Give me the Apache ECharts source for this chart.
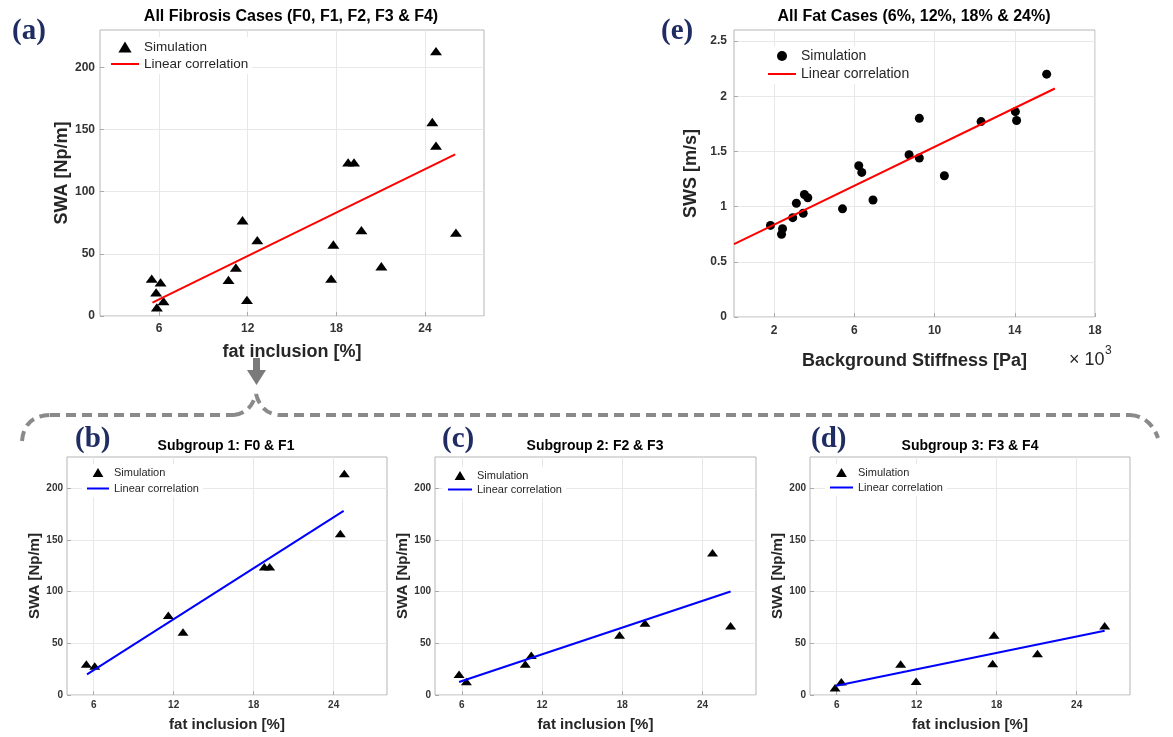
<!DOCTYPE html>
<html>
<head>
<meta charset="utf-8">
<script src="https://cdn.jsdelivr.net/npm/echarts@6/dist/echarts.min.js"></script>
<style>
html, body { margin: 0; padding: 0; background: #fff; }
#chart { width: 1173px; height: 737px; }
</style>
</head>
<body>
<div id="chart"></div>
<script>
var FONT = 'Liberation Sans, Arial, sans-serif';

// (a) all fibrosis cases: fat inclusion [%] vs SWA [Np/m]
var fatAll = [5.5, 6.1, 5.8, 5.85, 6.3, 10.7, 11.2, 11.65, 11.95, 12.65, 17.65, 17.8, 18.8, 19.2, 19.7, 21.05, 24.5, 24.75, 24.75, 26.1];
var swaAll = [30, 27, 19, 7, 12, 29, 39, 77, 13, 61, 30, 57.5, 123.5, 123.5, 69, 40, 156, 137, 213, 67];
var fitAllX = [5.55, 26.05];
var fitAllY = [10.7, 130];

// (b) subgroup 1: F0 & F1
var fatSub1 = [5.45, 6.08, 11.6, 12.7, 18.8, 19.2, 24.5, 24.8];
var swaSub1 = [30, 28, 77, 61, 124, 124, 156, 214];
var fitSub1X = [5.5, 24.75];
var fitSub1Y = [20, 178];

// (c) subgroup 2: F2 & F3
var fatSub2 = [5.8, 6.35, 10.75, 11.2, 17.8, 19.7, 24.75, 26.1];
var swaSub2 = [20, 13, 30, 38.5, 58, 69.5, 137.5, 67];
var fitSub2X = [5.8, 26.1];
var fitSub2Y = [12.5, 100];

// (d) subgroup 3: F3 & F4
var fatSub3 = [5.88, 6.35, 10.8, 11.96, 17.7, 17.8, 21.06, 26.1];
var swaSub3 = [7, 12.8, 30, 13.2, 30.5, 58, 40, 67];
var fitSub3X = [5.88, 26.1];
var fitSub3Y = [8.7, 62];

// (e) all fat cases: background stiffness [x10^3 Pa] vs SWS [m/s]
var stiffness = [1.82, 2.37, 2.42, 2.93, 3.11, 3.45, 3.51, 3.68, 5.41, 6.22, 6.37, 6.93, 8.73, 9.24, 9.24, 10.49, 12.32, 14.03, 14.09, 15.59];
var sws = [0.83, 0.75, 0.80, 0.90, 1.03, 0.94, 1.11, 1.08, 0.98, 1.37, 1.31, 1.06, 1.47, 1.44, 1.80, 1.28, 1.77, 1.86, 1.78, 2.20];
var fitFatX = [0, 16];
var fitFatY = [0.66, 2.07];

// tick labels
var fatTicks = [6, 12, 18, 24];
var swaTicks = [0, 50, 100, 150, 200];
var stiffTicks = [2, 6, 10, 14, 18];
var swsTicks = [0, 0.5, 1, 1.5, 2, 2.5];

function zip(xs, ys) {
    var out = [];
    for (var i = 0; i < xs.length; i++) out.push([xs[i], ys[i]]);
    return out;
}

var grids = [
    { left: 100, top: 30, width: 384, height: 286 },  // a
    { left: 734, top: 30, width: 361, height: 287 },  // e
    { left: 67, top: 457, width: 320, height: 238 },  // b
    { left: 435, top: 457, width: 321, height: 238 }, // c
    { left: 810, top: 457, width: 320, height: 238 }  // d
];
grids.forEach(function (g) {
    g.show = true;
    g.borderColor = '#b5b5b5';
    g.borderWidth = 1;
    g.backgroundColor = '#fff';
});

function axis(i, min, max, ticks, name, o) {
    return {
        gridIndex: i, type: 'value', min: min, max: max,
        name: name, nameLocation: 'middle', nameGap: o.gap,
        nameTextStyle: { fontSize: o.nameFs, fontWeight: 'bold', color: '#262626', fontFamily: FONT },
        axisLine: { show: false },
        axisTick: { show: true, inside: true, length: 4, customValues: ticks, lineStyle: { color: '#aaa' } },
        axisLabel: { customValues: ticks, margin: o.margin, fontSize: o.labelFs, fontWeight: 'bold', color: '#333', fontFamily: FONT },
        splitLine: { show: true, lineStyle: { color: '#e8e8e8', width: 1 } }
    };
}

var xAxes = [
    axis(0, 2, 28, fatTicks, 'fat inclusion [%]', { gap: 27, nameFs: 18, labelFs: 12, margin: 7 }),
    axis(1, 0, 18, stiffTicks, 'Background Stiffness [Pa]', { gap: 35, nameFs: 18, labelFs: 12, margin: 8 }),
    axis(2, 4, 28, fatTicks, 'fat inclusion [%]', { gap: 22, nameFs: 15, labelFs: 10, margin: 5 }),
    axis(3, 4, 28, fatTicks, 'fat inclusion [%]', { gap: 22, nameFs: 15, labelFs: 10, margin: 5 }),
    axis(4, 4, 28, fatTicks, 'fat inclusion [%]', { gap: 22, nameFs: 15, labelFs: 10, margin: 5 })
];
var yAxes = [
    axis(0, 0, 230, swaTicks, 'SWA [Np/m]', { gap: 28, nameFs: 18, labelFs: 12, margin: 5 }),
    axis(1, 0, 2.6, swsTicks, 'SWS [m/s]', { gap: 34, nameFs: 18, labelFs: 12, margin: 7 }),
    axis(2, 0, 230, swaTicks, 'SWA [Np/m]', { gap: 25, nameFs: 15, labelFs: 10, margin: 4 }),
    axis(3, 0, 230, swaTicks, 'SWA [Np/m]', { gap: 25, nameFs: 15, labelFs: 10, margin: 4 }),
    axis(4, 0, 230, swaTicks, 'SWA [Np/m]', { gap: 25, nameFs: 15, labelFs: 10, margin: 4 })
];

// MATLAB style '^' marker (a bit wider than tall)
var TRI = 'path://M0 10L6 0L12 10Z';

function scatter(i, tag, pts, sym, size) {
    return {
        type: 'scatter', name: 'Simulation#' + tag, xAxisIndex: i, yAxisIndex: i,
        data: pts, symbol: sym, symbolSize: size, symbolKeepAspect: true,
        itemStyle: { color: '#000', opacity: 1 }
    };
}
function fit(i, tag, pts, color) {
    return {
        type: 'line', name: 'Linear correlation#' + tag, xAxisIndex: i, yAxisIndex: i,
        data: pts, symbol: 'circle', showSymbol: false, z: 3,
        lineStyle: { color: color, width: 2 }, itemStyle: { color: 'rgba(0,0,0,0)' }
    };
}

var series = [
    scatter(0, 'a', zip(fatAll, swaAll), TRI, [12, 10]),
    fit(0, 'a', zip(fitAllX, fitAllY), '#ff0000'),
    scatter(1, 'e', zip(stiffness, sws), 'circle', 9),
    fit(1, 'e', zip(fitFatX, fitFatY), '#ff0000'),
    scatter(2, 'b', zip(fatSub1, swaSub1), TRI, [11, 9]),
    fit(2, 'b', zip(fitSub1X, fitSub1Y), '#0000ff'),
    scatter(3, 'c', zip(fatSub2, swaSub2), TRI, [11, 9]),
    fit(3, 'c', zip(fitSub2X, fitSub2Y), '#0000ff'),
    scatter(4, 'd', zip(fatSub3, swaSub3), TRI, [11, 9]),
    fit(4, 'd', zip(fitSub3X, fitSub3Y), '#0000ff')
];

function legend(tag, left, top, w, h, gap, fs) {
    return {
        data: ['Simulation#' + tag, 'Linear correlation#' + tag],
        orient: 'vertical', left: left, top: top,
        itemWidth: w, itemHeight: h, itemGap: gap,
        padding: [3, 4, 3, 4], backgroundColor: '#fff',
        selectedMode: false, symbolKeepAspect: true,
        formatter: function (n) { return n.split('#')[0]; },
        textStyle: { fontSize: fs, color: '#262626', fontFamily: FONT }
    };
}
var legends = [
    legend('a', 106, 37, 28, 11, 3, 13.5),
    legend('e', 763, 46, 28, 10, 4, 14),
    legend('b', 82, 464, 22, 9, 5, 11),
    legend('c', 443, 467, 24, 9, 3, 11),
    legend('d', 825, 464, 23, 9, 4, 11)
];

function txt(x, y, s, fs, opt) {
    opt = opt || {};
    return {
        type: 'text', x: x, y: y, silent: true,
        style: {
            text: s, fontSize: fs, fontWeight: opt.weight || 'bold',
            fontFamily: opt.family || FONT, fill: opt.color || '#000',
            align: opt.align || 'center', verticalAlign: 'middle'
        }
    };
}
var SERIF = 'Liberation Serif, Times New Roman, serif';
var NAVY = '#1f2d63';
var dash = { stroke: '#8a8a8a', lineWidth: 4, lineDash: [10, 6], fill: null };

var graphics = [
    txt(291, 17, 'All Fibrosis Cases (F0, F1, F2, F3 & F4)', 16),
    txt(914, 17, 'All Fat Cases (6%, 12%, 18% & 24%)', 16),
    txt(226, 446, 'Subgroup 1: F0 & F1', 14),
    txt(595, 446, 'Subgroup 2: F2 & F3', 14),
    txt(970, 446, 'Subgroup 3: F3 & F4', 14),
    txt(12, 32, '(a)', 29, { family: SERIF, color: NAVY, align: 'left' }),
    txt(661, 32, '(e)', 29, { family: SERIF, color: NAVY, align: 'left' }),
    txt(75, 440, '(b)', 29, { family: SERIF, color: NAVY, align: 'left' }),
    txt(442, 440, '(c)', 29, { family: SERIF, color: NAVY, align: 'left' }),
    txt(811, 440, '(d)', 29, { family: SERIF, color: NAVY, align: 'left' }),
    txt(1069, 360, '\u00d7 10', 18, { weight: 'normal', color: '#262626', align: 'left' }),
    txt(1105, 351, '3', 12, { weight: 'normal', color: '#262626', align: 'left' }),
    // arrow from (a) down to the subgroups
    { type: 'rect', silent: true, shape: { x: 253, y: 358, width: 7, height: 13 }, style: { fill: '#7a7a7a' } },
    { type: 'polygon', silent: true, shape: { points: [[247, 370], [266, 370], [256.5, 385]] }, style: { fill: '#7a7a7a' } },
    // dashed brace
    { type: 'bezierCurve', silent: true, shape: { x1: 22, y1: 441, cpx1: 24, cpy1: 416, x2: 50, y2: 415 }, style: dash },
    { type: 'line', silent: true, shape: { x1: 50, y1: 415, x2: 234, y2: 415 }, style: dash },
    { type: 'bezierCurve', silent: true, shape: { x1: 234, y1: 415, cpx1: 251, cpy1: 413, x2: 256, y2: 394 }, style: dash },
    { type: 'bezierCurve', silent: true, shape: { x1: 256, y1: 394, cpx1: 261, cpy1: 413, x2: 278, y2: 415 }, style: dash },
    { type: 'line', silent: true, shape: { x1: 278, y1: 415, x2: 1130, y2: 415 }, style: dash },
    { type: 'bezierCurve', silent: true, shape: { x1: 1130, y1: 415, cpx1: 1150, cpy1: 416, x2: 1158, y2: 438 }, style: dash }
];

var chart = echarts.init(document.getElementById('chart'));
chart.setOption({
    animation: false,
    backgroundColor: '#fff',
    grid: grids,
    xAxis: xAxes,
    yAxis: yAxes,
    legend: legends,
    series: series,
    graphic: graphics
});
</script>
</body>
</html>
